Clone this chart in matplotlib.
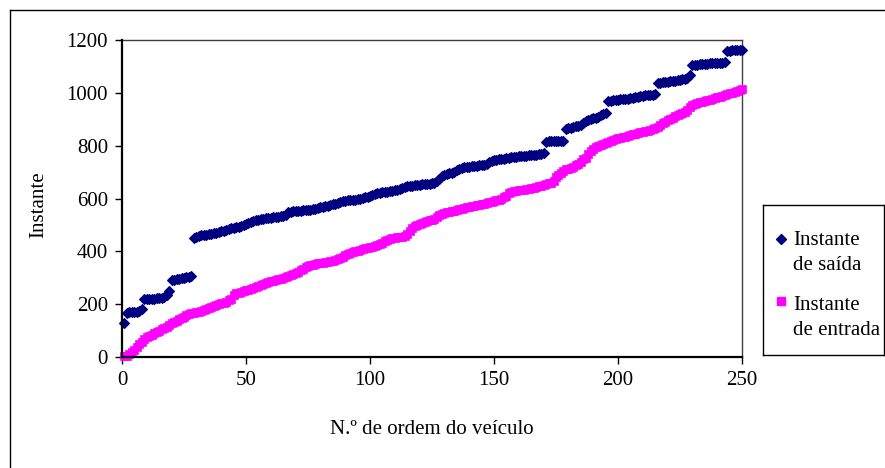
import numpy as np
import matplotlib
matplotlib.use("Agg")
import matplotlib.pyplot as plt
from matplotlib.lines import Line2D

plt.rcParams['font.family'] = ['Liberation Serif', 'DejaVu Serif']
plt.rcParams['font.size'] = 15

# ── Data ──
instante_saida = [
    130, 168, 170, 170, 171, 172, 173, 180, 218, 219,
    220, 221, 221, 222, 223, 225, 228, 235, 248, 290,
    292, 295, 297, 298, 300, 301, 303, 305, 452, 455,
    458, 460, 462, 463, 465, 467, 468, 470, 474, 476,
    478, 480, 483, 487, 490, 492, 494, 497, 500, 503,
    507, 512, 515, 518, 520, 522, 524, 526, 527, 528,
    529, 530, 531, 533, 535, 538, 548, 550, 551, 552,
    553, 554, 555, 556, 557, 558, 560, 562, 564, 566,
    568, 570, 573, 576, 578, 580, 583, 587, 589, 591,
    593, 594, 595, 596, 598, 600, 602, 604, 607, 610,
    613, 617, 619, 621, 623, 624, 626, 628, 630, 632,
    634, 636, 639, 642, 646, 648, 649, 650, 651, 652,
    653, 654, 655, 656, 657, 658, 665, 675, 685, 690,
    693, 695, 698, 702, 706, 710, 715, 718, 720, 721,
    722, 723, 724, 725, 726, 727, 730, 740, 742, 744,
    746, 748, 750, 751, 752, 754, 756, 757, 758, 759,
    760, 761, 762, 763, 764, 765, 766, 768, 770, 772,
    815, 816, 816, 817, 817, 818, 818, 819, 862, 865,
    868, 870, 873, 876, 879, 885, 892, 898, 900, 903,
    906, 910, 915, 920, 925, 968, 970, 972, 973, 974,
    975, 976, 977, 978, 980, 982, 984, 986, 988, 989,
    990, 991, 992, 993, 995, 1036, 1038, 1040, 1041, 1042,
    1043, 1045, 1046, 1048, 1050, 1052, 1054, 1058, 1068, 1105,
    1106, 1107, 1108, 1109, 1110, 1111, 1112, 1112, 1113, 1113,
    1114, 1114, 1115, 1160, 1160, 1161, 1161, 1162, 1162, 1163,
]

instante_entrada = [
    2, 5, 10, 18, 26, 38, 48, 58, 68, 75,
    80, 85, 90, 95, 100, 105, 110, 115, 122, 128,
    134, 138, 142, 147, 153, 158, 162, 165, 168, 170,
    172, 174, 177, 180, 184, 188, 192, 196, 200, 203,
    206, 210, 214, 220, 236, 242, 244, 246, 249, 252,
    255, 258, 262, 266, 270, 274, 278, 282, 285, 287,
    289, 291, 294, 297, 300, 304, 308, 312, 315, 318,
    322, 328, 334, 340, 346, 348, 350, 352, 354, 355,
    357, 359, 361, 363, 365, 367, 370, 374, 380, 386,
    391, 394, 397, 400, 402, 405, 408, 411, 413, 415,
    417, 419, 423, 428, 433, 438, 443, 447, 450, 452,
    454, 455, 456, 458, 466, 478, 489, 495, 500, 504,
    507, 510, 513, 517, 520, 524, 530, 536, 542, 545,
    548, 550, 552, 554, 556, 559, 562, 564, 566, 568,
    570, 572, 574, 576, 578, 580, 583, 585, 588, 591,
    593, 596, 600, 604, 609, 620, 625, 627, 629, 631,
    632, 633, 635, 637, 639, 641, 643, 646, 649, 652,
    655, 657, 660, 668, 680, 690, 698, 705, 710, 713,
    716, 720, 725, 732, 740, 748, 755, 768, 778, 788,
    794, 798, 802, 806, 810, 814, 818, 822, 825, 828,
    830, 832, 834, 837, 840, 843, 846, 849, 851, 853,
    855, 857, 860, 862, 866, 872, 878, 884, 890, 896,
    901, 906, 911, 916, 920, 924, 928, 936, 948, 955,
    958, 961, 964, 966, 968, 971, 974, 977, 980, 983,
    986, 989, 992, 995, 998, 1001, 1004, 1007, 1010, 1013,
]

ordem_saida = np.arange(1, len(instante_saida) + 1)
ordem_entrada = np.arange(1, len(instante_entrada) + 1)

labels = ["Instante\nde saída", "Instante\nde entrada"]
NAVY = "#000080"
MAGENTA = "#FF00FF"

W, H = 885, 468
fig = plt.figure(figsize=(W / 100, H / 100), dpi=100)

ax = fig.add_axes([122 / W, 1 - 357 / H, 620 / W, 317 / H])
ax.plot(ordem_saida, instante_saida, linestyle='none', marker='D', ms=4.9,
        color=NAVY, markeredgecolor=NAVY, markeredgewidth=0.8, clip_on=False, zorder=3)
ax.plot(ordem_entrada, instante_entrada, linestyle='none', marker='s', ms=5.4,
        color=MAGENTA, markeredgecolor=MAGENTA, markeredgewidth=0.5, clip_on=False, zorder=4)

ax.set_xlim(0, 250)
ax.set_ylim(0, 1200)
ax.set_xticks(np.arange(0, 251, 50))
ax.set_yticks(np.arange(0, 1201, 200))
ax.tick_params(direction='out', length=5, width=1, pad=5, color='black', labelsize=15)

for side in ['left', 'bottom']:
    ax.spines[side].set_linewidth(1.6)
    ax.spines[side].set_color('black')
for side in ['top', 'right']:
    ax.spines[side].set_linewidth(1.0)
    ax.spines[side].set_color('#404040')
ax.spines['left'].set_zorder(5)
ax.spines['bottom'].set_zorder(5)

ax.set_xlabel("N.º de ordem do veículo", fontsize=15)
ax.xaxis.set_label_coords(0.5, (357 - 420) / 317)
ax.set_ylabel("Instante", fontsize=15)
ax.yaxis.set_label_coords((48 - 122) / 620, (357 - 205) / 317)

# ── Legend box (Excel style, marker next to first line) ──
lg = fig.add_axes([763 / W, 1 - 355 / H, 121 / W, 150 / H])
lg.set_xlim(0, 1)
lg.set_ylim(0, 1)
lg.set_xticks([])
lg.set_yticks([])
for s in lg.spines.values():
    s.set_linewidth(1.0)
    s.set_color('black')
lg.plot([0.149], [0.773], marker='D', ms=4.9, color=NAVY, linestyle='none')
lg.plot([0.149], [0.36], marker='s', ms=5.4, color=MAGENTA, linestyle='none')
for base, lab in zip([0.733, 0.30], labels):
    l1, l2 = lab.split("\n")
    lg.text(0.248, base, l1, ha='left', va='baseline', fontsize=15)
    lg.text(0.248, base - 0.165, l2, ha='left', va='baseline', fontsize=15)

# ── Outer chart border (left and top visible) ──
fig.add_artist(Line2D([9.5 / W, 9.5 / W], [0, 1 - 10 / H], color='black', lw=1.0))
fig.add_artist(Line2D([9.5 / W, 1], [1 - 10 / H, 1 - 10 / H], color='black', lw=1.0))

fig.savefig("out.png", dpi=100, facecolor='white')
